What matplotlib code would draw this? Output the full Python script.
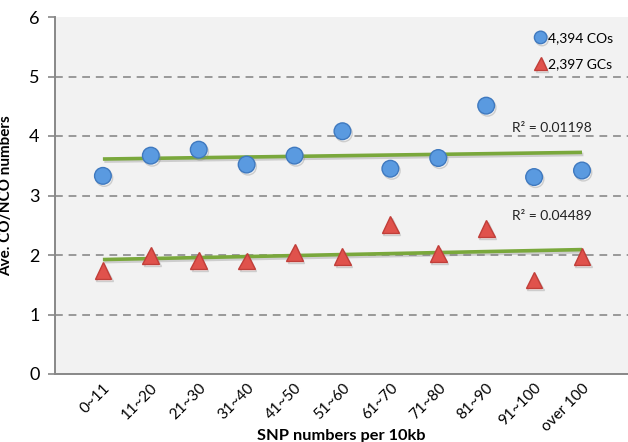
import matplotlib.pyplot as plt
import matplotlib.patheffects as pe
import numpy as np

# SNP density bins and average event counts per bin
categories = ["0~11", "11~20", "21~30", "31~40", "41~50", "51~60",
              "61~70", "71~80", "81~90", "91~100", "over 100"]
co_values = [3.33, 3.67, 3.77, 3.52, 3.67, 4.08, 3.45, 3.63, 4.51, 3.31, 3.42]
gc_values = [1.74, 1.99, 1.91, 1.90, 2.04, 1.97, 2.51, 2.02, 2.45, 1.58, 1.97]
co_label = "4,394 COs"
gc_label = "2,397 GCs"
co_r2 = "R² = 0.01198"
gc_r2 = "R² = 0.04489"

FONT = ["Lato", "DejaVu Sans"]
plt.rcParams["font.family"] = FONT

x = np.arange(1, len(categories) + 1)

fig = plt.figure(figsize=(6.28, 4.42), dpi=100)
fig.patch.set_facecolor("white")
ax = fig.add_axes([55 / 628, 1 - 374 / 442, 1 - 55 / 628, (374 - 17) / 442])
ax.set_facecolor("#f2f2f2")

shadow = [pe.SimpleLineShadow(offset=(1, -1.5), shadow_color="#888888", alpha=0.35), pe.Normal()]

# linear trendlines
for vals in (co_values, gc_values):
    slope, icpt = np.polyfit(x, vals, 1)
    ax.plot(x, slope * x + icpt, color="#7aa83c", lw=2.6, zorder=3,
            solid_capstyle="butt", path_effects=shadow)

ax.plot(x, co_values, "o", ms=12, mfc="#5a9ae0", mec="#3f79bf", mew=1.0,
        label=co_label, zorder=4, path_effects=shadow)
ax.plot(x, gc_values, "^", ms=12, mfc="#e0524c", mec="#c13e39", mew=1.0,
        label=gc_label, zorder=4, path_effects=shadow)

ax.text(11.2, 4.14, co_r2, ha="right", va="center", fontsize=10, color="#222222")
ax.text(11.2, 2.66, gc_r2, ha="right", va="center", fontsize=10, color="#222222")

ax.set_xlim(0, 11.96)
ax.set_ylim(0, 6)
ax.set_yticks(range(7))
ax.set_xticks(x)
ax.set_xticklabels(categories, rotation=45, ha="right", rotation_mode="anchor",
                   fontsize=11)
ax.tick_params(axis="x", length=0, pad=5)
ax.tick_params(axis="y", length=5, width=1.2, color="#888888", labelsize=13, pad=6)

for yv in range(1, 6):
    ax.axhline(yv, color="#999999", lw=1.4, ls=(0, (4, 3)), zorder=1)

for side in ("top", "right"):
    ax.spines[side].set_visible(False)
for side in ("left", "bottom"):
    ax.spines[side].set_color("#888888")
    ax.spines[side].set_linewidth(1.4)

ax.set_ylabel("Ave. CO/NCO numbers", fontsize=11, fontweight="bold")
ax.yaxis.set_label_coords(-0.074, 0.5)
ax.set_xlabel("SNP numbers per 10kb", fontsize=11.8, fontweight="bold")
ax.xaxis.set_label_coords(0.5, -0.155)

leg = ax.legend(loc="upper right", bbox_to_anchor=(1.0, 1.0), frameon=False,
                fontsize=10, handletextpad=0.0, handlelength=1.0,
                labelspacing=1.0, markerscale=0.75, borderaxespad=0.7)

fig.savefig("out.png", dpi=100, facecolor=fig.get_facecolor())
